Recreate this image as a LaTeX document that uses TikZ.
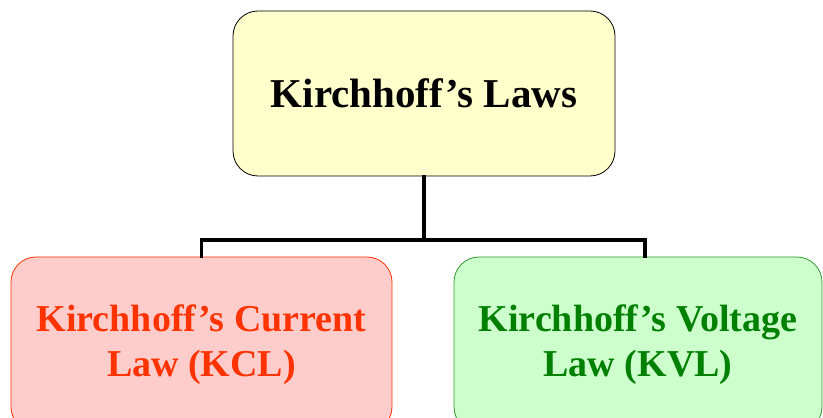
\documentclass[tikz,border=0pt]{standalone}
\usepackage{fontspec}
\setmainfont{Liberation Serif}
\usepackage{tikz}
\definecolor{lawyellow}{RGB}{255, 255, 204}
\definecolor{kclfill}{RGB}{255, 204, 204}
\definecolor{kcltext}{RGB}{255, 51, 0}
\definecolor{kvlfill}{RGB}{204, 255, 204}
\definecolor{kvltext}{RGB}{0, 128, 0}
\definecolor{kvlline}{RGB}{51, 153, 51}

\begin{document}
\begin{tikzpicture}[x=1pt, y=1pt,
    lawbox/.style={draw, line width=0.8pt, rounded corners=25pt, align=center,
      inner sep=0pt, font=\bfseries\fontsize{38}{45}\selectfont},
    link/.style={line width=3.2pt, line cap=rect}]
        \useasboundingbox (0,0) rectangle (823,418);

        % Top box
        \node[lawbox, fill=lawyellow, minimum width=382pt, minimum height=165pt,
          font=\bfseries\fontsize{41}{48}\selectfont] (laws) at (424,324.5) {Kirchhoff’s Laws};

        % The two laws
        \node[lawbox, draw=kcltext, fill=kclfill, text=kcltext, minimum width=381pt,
          minimum height=175pt] (kcl) at (201.5,73.5) {Kirchhoff’s Current\\Law (KCL)};
        \node[lawbox, draw=kvlline, fill=kvlfill, text=kvltext, minimum width=368pt,
          minimum height=175pt] (kvl) at (638,73.5) {Kirchhoff’s Voltage\\Law (KVL)};

        % Connectors
        \coordinate (split) at (424,178);
        \draw[link] (laws.south) -- (split);
        \draw[link] (kcl.north) |- (split) -| ([xshift=7pt]kvl.north);
\end{tikzpicture}
\end{document}
